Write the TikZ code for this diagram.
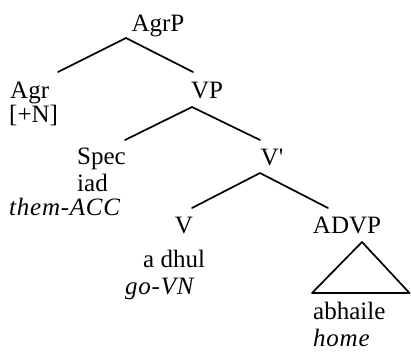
\documentclass[tikz,border=0pt]{standalone}
\usepackage{fontspec}
\setmainfont{Liberation Serif}
\begin{document}
\begin{tikzpicture}[x=1pt,y=-1pt,
  lbl/.style={inner sep=0pt,text height=17pt,text depth=5pt,font=\fontsize{25}{29}\selectfont},
  gloss/.style={lbl,font=\fontsize{25}{29}\selectfont\itshape\addfontfeature{LetterSpace=3}},
  branch/.style={line width=1.7pt,line cap=round,line join=round}]
\useasboundingbox (0,0) rectangle (411,354);

% category labels
\node[lbl,anchor=base] (agrp) at (158,31) {AgrP};
\node[lbl,anchor=base west] (agr) at (10,98) {Agr};
\node[lbl,anchor=base west] (feat) at (9,122) {[+N]};
\node[lbl,anchor=base] (vp) at (207,98) {VP};
\node[lbl,anchor=base west] (spec) at (77,164) {Spec};
\node[lbl,anchor=base west] (iad) at (77,191) {iad};
\node[gloss,anchor=base west] (them) at (9,215) {them-ACC};
\node[lbl,anchor=base] (vbar) at (272,165) {V\textquotesingle};
\node[lbl,anchor=base] (v) at (184,233) {V};
\node[lbl,anchor=base] (advp) at (347,233) {ADVP};
\node[lbl,anchor=base west] (dhul) at (143,267) {a dhul};
\node[gloss,anchor=base west] (govn) at (125,294) {go-VN};
\node[lbl,anchor=base west] (abhaile) at (313,319) {abhaile};
\node[gloss,anchor=base west] (home) at (313,346) {home};

% branch points
\coordinate (agrp-top) at (126,38);
\coordinate (agrp-l) at (58,72);
\coordinate (agrp-r) at (193,72);
\coordinate (vp-top) at (192,107);
\coordinate (vp-l) at (125,140);
\coordinate (vp-r) at (260,140);
\coordinate (vbar-top) at (260,173);
\coordinate (vbar-l) at (192,208);
\coordinate (vbar-r) at (328,208);
\coordinate (tri-top) at (362,242);
\coordinate (tri-l) at (312,293);
\coordinate (tri-r) at (409.5,293);

\draw[branch] (agrp-l) -- (agrp-top) -- (agrp-r);
\draw[branch] (vp-l) -- (vp-top) -- (vp-r);
\draw[branch] (vbar-l) -- (vbar-top) -- (vbar-r);
\draw[branch] (tri-top) -- (tri-l) -- (tri-r) -- cycle;
\end{tikzpicture}
\end{document}
